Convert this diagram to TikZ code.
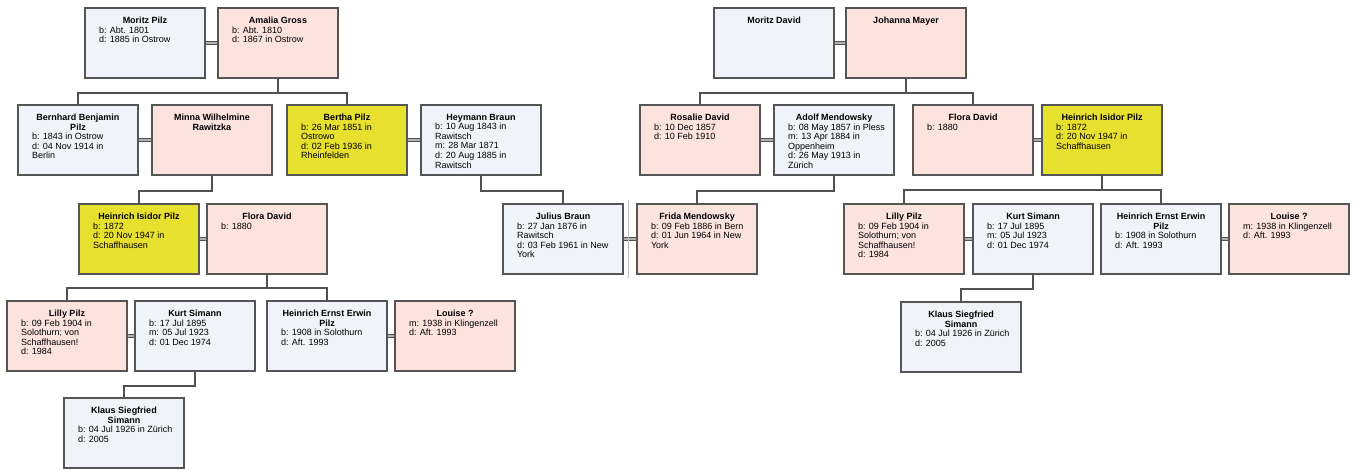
\documentclass[tikz,border=0pt]{standalone}
\usepackage{fontspec}
\setmainfont{Liberation Sans}
\usepackage{tikz}

\definecolor{boxline}{HTML}{555555}
\definecolor{malefill}{HTML}{F0F4FA}
\definecolor{femfill}{HTML}{FDE3DE}
\definecolor{kinfill}{HTML}{E8E02E}
\definecolor{linkgray}{HTML}{505050}

\newcommand{\pinfo}[2]{\parbox[c][58pt][t]{104pt}{\vspace*{3pt}\centering\textbf{#1}\par\raggedright\leftskip=6pt #2}}

\tikzset{
	person/.style={draw=boxline, line width=1.5pt, inner xsep=8pt, inner ysep=6pt, font=\fontsize{9}{9.6}\selectfont},
	male/.style={person, fill=malefill},
	female/.style={person, fill=femfill},
	kin/.style={person, fill=kinfill},
	link/.style={draw=linkgray, line width=1.5pt},
	wed/.style={draw=linkgray, line width=0.9pt, double=gray!60, double distance=1.8pt}
}

\begin{document}
\begin{tikzpicture}[x=1pt,y=1pt]
				\useasboundingbox (0,0) rectangle (1368,-469);
				\node[male] (moritzP) at (145,-43) {\pinfo{Moritz Pilz}{b: Abt. 1801\\d: 1885 in Ostrow}};
				\node[female] (amalia) at (278,-43) {\pinfo{Amalia Gross}{b: Abt. 1810\\d: 1867 in Ostrow}};
				\node[male] (bernhard) at (78,-140) {\pinfo{Bernhard Benjamin\\Pilz}{b: 1843 in Ostrow\\d: 04 Nov 1914 in\\Berlin}};
				\node[female] (minna) at (212,-140) {\pinfo{Minna Wilhelmine\\Rawitzka}{}};
				\node[kin] (bertha) at (347,-140) {\pinfo{Bertha Pilz}{b: 26 Mar 1851 in\\Ostrowo\\d: 02 Feb 1936 in\\Rheinfelden}};
				\node[male] (heymann) at (481,-140) {\pinfo{Heymann Braun}{b: 10 Aug 1843 in\\Rawitsch\\m: 28 Mar 1871\\d: 20 Aug 1885 in\\Rawitsch}};
				\node[kin] (heinrichL) at (139,-239) {\pinfo{Heinrich Isidor Pilz}{b: 1872\\d: 20 Nov 1947 in\\Schaffhausen}};
				\node[female] (floraL) at (267,-239) {\pinfo{Flora David}{b: 1880}};
				\node[female] (lillyL) at (67,-336) {\pinfo{Lilly Pilz}{b: 09 Feb 1904 in\\Solothurn; von\\Schaffhausen!\\d: 1984}};
				\node[male] (kurtL) at (195,-336) {\pinfo{Kurt Simann}{b: 17 Jul 1895\\m: 05 Jul 1923\\d: 01 Dec 1974}};
				\node[male] (erwinL) at (327,-336) {\pinfo{Heinrich Ernst Erwin\\Pilz}{b: 1908 in Solothurn\\d: Aft. 1993}};
				\node[female] (louiseL) at (455,-336) {\pinfo{Louise ?}{m: 1938 in Klingenzell\\d: Aft. 1993}};
				\node[male] (klausL) at (124,-433) {\pinfo{Klaus Siegfried\\Simann}{b: 04 Jul 1926 in Zürich\\d: 2005}};

				\node[male] (julius) at (563,-239) {\pinfo{Julius Braun}{b: 27 Jan 1876 in\\Rawitsch\\d: 03 Feb 1961 in New\\York}};
				\node[female] (frida) at (697,-239) {\pinfo{Frida Mendowsky}{b: 09 Feb 1886 in Bern\\d: 01 Jun 1964 in New\\York}};

				\node[male] (moritzD) at (774,-43) {\pinfo{Moritz David}{}};
				\node[female] (johanna) at (906,-43) {\pinfo{Johanna Mayer}{}};
				\node[female] (rosalie) at (700,-140) {\pinfo{Rosalie David}{b: 10 Dec 1857\\d: 10 Feb 1910}};
				\node[male] (adolf) at (834,-140) {\pinfo{Adolf Mendowsky}{b: 08 May 1857 in Pless\\m: 13 Apr 1884 in\\Oppenheim\\d: 26 May 1913 in\\Zürich}};
				\node[female] (floraR) at (973,-140) {\pinfo{Flora David}{b: 1880}};
				\node[kin] (heinrichR) at (1102,-140) {\pinfo{Heinrich Isidor Pilz}{b: 1872\\d: 20 Nov 1947 in\\Schaffhausen}};
				\node[female] (lillyR) at (904,-239) {\pinfo{Lilly Pilz}{b: 09 Feb 1904 in\\Solothurn; von\\Schaffhausen!\\d: 1984}};
				\node[male] (kurtR) at (1033,-239) {\pinfo{Kurt Simann}{b: 17 Jul 1895\\m: 05 Jul 1923\\d: 01 Dec 1974}};
				\node[male] (erwinR) at (1161,-239) {\pinfo{Heinrich Ernst Erwin\\Pilz}{b: 1908 in Solothurn\\d: Aft. 1993}};
				\node[female] (louiseR) at (1289,-239) {\pinfo{Louise ?}{m: 1938 in Klingenzell\\d: Aft. 1993}};
				\node[male] (klausR) at (961,-337) {\pinfo{Klaus Siegfried\\Simann}{b: 04 Jul 1926 in Zürich\\d: 2005}};

				\draw[wed] (moritzP) -- (amalia);
				\draw[wed] (bernhard) -- (minna);
				\draw[wed] (bertha) -- (heymann);
				\draw[wed] (heinrichL) -- (floraL);
				\draw[wed] (lillyL) -- (kurtL);
				\draw[wed] (erwinL) -- (louiseL);
				\draw[wed] (julius) -- (frida);
				\draw[wed] (moritzD) -- (johanna);
				\draw[wed] (rosalie) -- (adolf);
				\draw[wed] (floraR) -- (heinrichR);
				\draw[wed] (lillyR) -- (kurtR);
				\draw[wed] (erwinR) -- (louiseR);

				\draw[link] (amalia.south) -- ++(0,-14) -| (bernhard.north);
				\draw[link] (amalia.south) -- ++(0,-14) -| (bertha.north);
				\draw[link] (minna.south) -- ++(0,-15) -| (heinrichL.north);
				\draw[link] (heymann.south) -- ++(0,-15) -| (julius.north);
				\draw[link] (floraL.south) -- ++(0,-13) -| (lillyL.north);
				\draw[link] (floraL.south) -- ++(0,-13) -| (erwinL.north);
				\draw[link] (kurtL.south) -- ++(0,-14) -| (klausL.north);
				\draw[link] (johanna.south) -- ++(0,-14) -| (rosalie.north);
				\draw[link] (johanna.south) -- ++(0,-14) -| (floraR.north);
				\draw[link] (adolf.south) -- ++(0,-15) -| (frida.north);
				\draw[link] (heinrichR.south) -- ++(0,-14) -| (lillyR.north);
				\draw[link] (heinrichR.south) -- ++(0,-14) -| (erwinR.north);
				\draw[link] (kurtR.south) -- ++(0,-14) -| (klausR.north);

				\draw[gray!50, thin] (628,-200) -- (628,-278);
		\end{tikzpicture}
\end{document}
